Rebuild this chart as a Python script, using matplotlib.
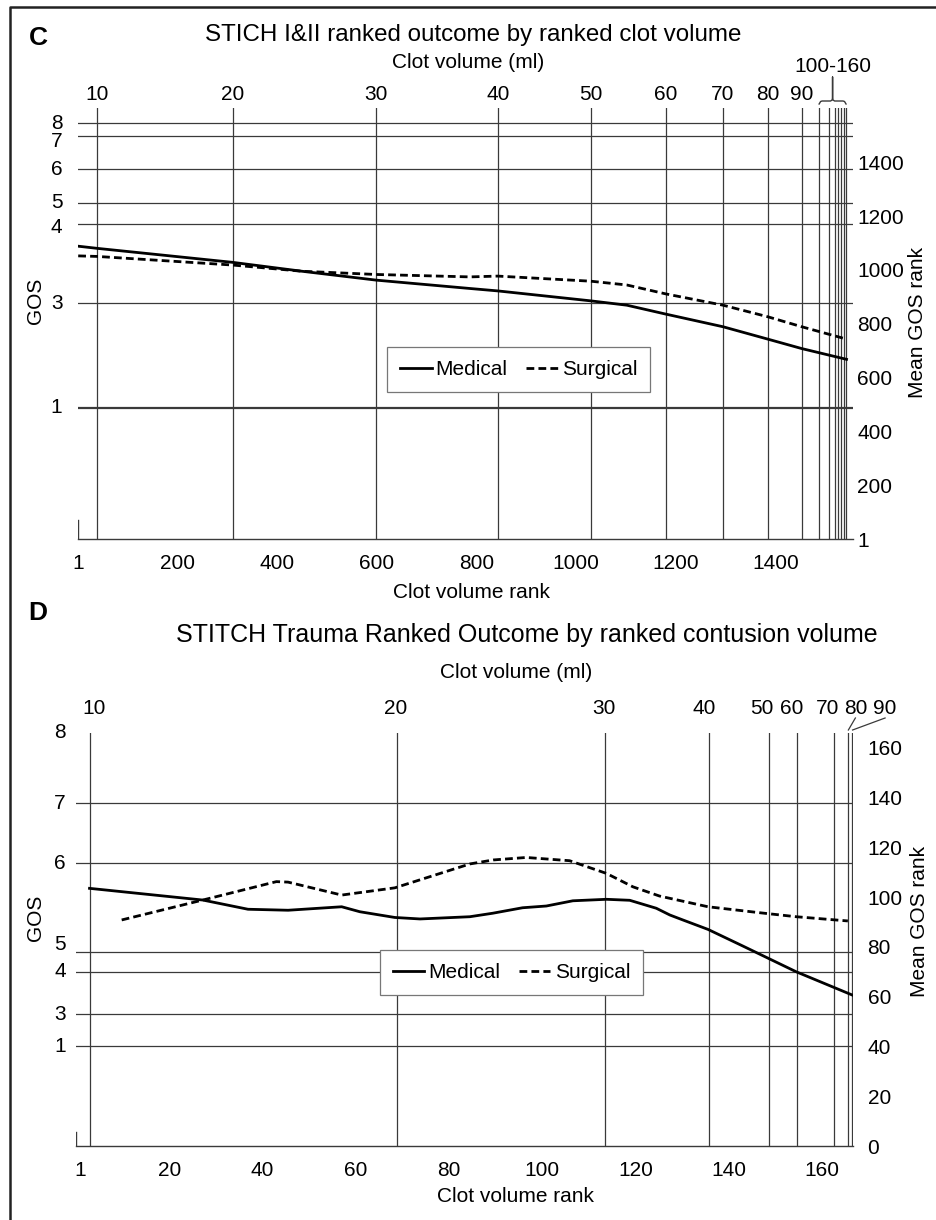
import matplotlib
matplotlib.use("Agg")
import matplotlib.pyplot as plt
from matplotlib.lines import Line2D

plt.rcParams['font.family'] = ['Liberation Sans', 'DejaVu Sans']

W, H, DPI = 937, 1220, 100

# ---------------- Panel C data ----------------
c_title = "STICH I&II ranked outcome by ranked clot volume"
c_x_rank = [1, 39, 311, 450, 599, 787, 843, 1030, 1102, 1180, 1295, 1385, 1453, 1543]
c_medical = [1088, 1080, 1028, 995, 962, 931, 922, 885, 869, 836, 789, 743, 708, 668]
c_surgical = [1052, 1050, 1018, 995, 983, 974, 977, 958, 944, 911, 869, 826, 789, 743]
c_gos_labels = ["1", "3", "4", "5", "6", "7", "8"]
c_gos_rank = [488, 876, 1171, 1250, 1374, 1498, 1544]
c_vol_values = [10, 20, 30, 40, 50, 60, 70, 80, 90, 100, 110, 120, 130, 140, 150, 160]
c_vol_rank = [39, 311, 599, 843, 1030, 1180, 1295, 1385, 1453, 1488, 1507, 1519, 1526, 1532, 1538, 1542]
c_xticks = [1, 200, 400, 600, 800, 1000, 1200, 1400]
c_yticks = [1, 200, 400, 600, 800, 1000, 1200, 1400]

# ---------------- Panel D data ----------------
d_title = "STITCH Trauma Ranked Outcome by ranked contusion volume"
d_med_rank = [2.9, 27.2, 36.9, 45.5, 57.0, 60.9, 68.4, 73.8, 84.5, 89.4, 95.8, 100.9,
              106.6, 113.8, 118.8, 124.5, 127.4, 130.2, 135.6, 143.1, 154.5, 166.6]
d_medical = [103.5, 98.8, 95.1, 94.7, 96.1, 94.1, 91.8, 91.2, 92.1, 93.5, 95.7, 96.4,
             98.5, 99.1, 98.7, 95.5, 92.8, 90.8, 87.0, 80.3, 70.0, 60.6]
d_sur_rank = [9.8, 27.2, 43.0, 45.5, 57.0, 68.4, 84.5, 89.5, 96.6, 105.9, 113.8,
              119.5, 125.2, 135.6, 146.7, 154.5, 165.6]
d_surgical = [90.8, 98.8, 106.2, 106.0, 100.8, 103.7, 113.3, 114.9, 115.9, 114.6, 109.5,
              104.1, 100.4, 96.1, 93.7, 92.1, 90.4]
d_gos_labels = ["1", "3", "4", "5", "6", "7", "8"]
d_gos_rank = [40.0, 52.9, 69.9, 77.8, 113.5, 137.6, 165.9]
d_vol_values = [10, 20, 30, 40, 50, 60, 70, 80, 90]
d_vol_rank = [3.0, 68.8, 113.6, 135.7, 148.6, 154.6, 162.7, 165.6, 166.5]
d_xticks = [1, 20, 40, 60, 80, 100, 120, 140, 160]
d_yticks = [0, 20, 40, 60, 80, 100, 120, 140, 160]

# ---------------- styling / layout ----------------
GRID = '#3a3a3a'
FS = 15
FS_TITLE_C = 17.4
FS_TITLE_D = 18.0

fig = plt.figure(figsize=(W / DPI, H / DPI), dpi=DPI)


def fx(x):
    return x / W


def fy(y):
    return 1 - y / H


def add_axes_px(left, top, right, bottom):
    return fig.add_axes([fx(left), fy(bottom), (right - left) / W, (bottom - top) / H])


def data_px(ax, x, y):
    X, Y = ax.transData.transform((x, y))
    return X, H - Y


def setup_panel(ax, xlim, ylim, xticks, yticks, xpad, ypad, stub):
    ax.set_xlim(*xlim)
    ax.set_ylim(*ylim)
    for s in ['top', 'left', 'right']:
        ax.spines[s].set_visible(False)
    ax.spines['bottom'].set_color(GRID)
    ax.spines['bottom'].set_linewidth(1.0)
    ax.set_xticks(xticks)
    ax.set_xticklabels([str(v) for v in xticks])
    ax.yaxis.tick_right()
    ax.set_yticks(yticks)
    ax.set_yticklabels([str(v) for v in yticks])
    ax.tick_params(axis='x', length=0, pad=xpad, labelsize=FS)
    ax.tick_params(axis='y', length=0, pad=ypad, labelsize=FS)
    ax.axvline(xlim[0], ymin=0, ymax=stub, color=GRID, lw=1.0)


def make_legend(ax, handles, anchor):
    leg = ax.legend(handles=handles, loc='center', bbox_to_anchor=anchor, ncol=2,
                    fontsize=FS, frameon=True, fancybox=False, framealpha=1,
                    edgecolor='#777777', handlelength=1.5, handletextpad=0.2,
                    columnspacing=0.9, borderpad=0.62)
    leg.get_frame().set_linewidth(0.9)
    return leg


# ================= Panel C =================
axc = add_axes_px(77.7, 108, 853, 539)
setup_panel(axc, (0, 1556), (1, 1601), c_xticks, c_yticks, 10.5, 3.2, 0.044)

for lab, r in zip(c_gos_labels, c_gos_rank):
    axc.axhline(r, color=GRID, lw=1.6 if lab == "1" else 0.9, zorder=1)
for r in c_vol_rank:
    axc.axvline(r, color=GRID, lw=0.9, zorder=1)

lm, = axc.plot(c_x_rank, c_medical, color='black', lw=2.0, label='Medical', zorder=3)
ls, = axc.plot(c_x_rank, c_surgical, color='black', lw=2.0, ls=(0, (2.8, 1.5)),
               label='Surgical', zorder=3)
make_legend(axc, [lm, ls], (0.569, 0.393))

# GOS labels (left)
c_gos_dy = {"7": 6, "4": 4}
for lab, r in zip(c_gos_labels, c_gos_rank):
    _, ypx = data_px(axc, 0, r)
    fig.text(fx(62.5), fy(ypx + c_gos_dy.get(lab, 0)), lab, ha='right', va='center', fontsize=FS)

# clot volume labels (top)
for v, r in zip(c_vol_values, c_vol_rank):
    if v <= 90:
        xpx, _ = data_px(axc, r, 0)
        fig.text(fx(xpx), fy(95), str(v), ha='center', va='center', fontsize=FS)

# bracket for 100-160
x0, _ = data_px(axc, c_vol_rank[9], 0)
x1, _ = data_px(axc, c_vol_rank[-1], 0)
xm = (x0 + x1) / 2
bx = [x0, x0 + 1.5, x0 + 3, xm - 2, xm - 0.5, xm, xm, xm, xm + 0.5, xm + 2, x1 - 3, x1 - 1.5, x1]
by = [104, 101.5, 101, 101, 100, 98, 77, 98, 100, 101, 101, 101.5, 104]
fig.add_artist(Line2D([fx(v) for v in bx], [fy(v) for v in by], color=GRID, lw=1.0,
                      transform=fig.transFigure))
fig.text(fx(xm), fy(66), "100-160", ha='center', va='center', fontsize=FS)

fig.text(fx(473), fy(35), c_title, ha='center', va='center', fontsize=FS_TITLE_C)
fig.text(fx(468.5), fy(63), "Clot volume (ml)", ha='center', va='center', fontsize=FS)
fig.text(fx(472), fy(592), "Clot volume rank", ha='center', va='center', fontsize=FS)
fig.text(fx(36), fy(301), "GOS", ha='center', va='center', rotation=90, fontsize=FS)
fig.text(fx(918), fy(322), "Mean GOS rank", ha='center', va='center', rotation=90, fontsize=FS)
fig.text(fx(38), fy(38), "C", ha='center', va='center', fontsize=19, fontweight='bold')

# ================= Panel D =================
axd = add_axes_px(76, 733, 853, 1146)
setup_panel(axd, (0, 166.7), (0, 165.9), d_xticks, d_yticks, 10.5, 10.5, 0.034)

for lab, r in zip(d_gos_labels, d_gos_rank):
    if r < 165.0:
        axd.axhline(r, color=GRID, lw=0.9, zorder=1)
for r in d_vol_rank:
    axd.axvline(r, color=GRID, lw=0.9, zorder=1)

dm, = axd.plot(d_med_rank, d_medical, color='black', lw=2.0, label='Medical', zorder=3)
ds, = axd.plot(d_sur_rank, d_surgical, color='black', lw=2.0, ls=(0, (2.8, 1.5)),
               label='Surgical', zorder=3)
make_legend(axd, [dm, ds], (0.5605, 0.420))

d_gos_dy = {"5": -8}
for lab, r in zip(d_gos_labels, d_gos_rank):
    _, ypx = data_px(axd, 0, r)
    fig.text(fx(66), fy(ypx + d_gos_dy.get(lab, 0)), lab, ha='right', va='center', fontsize=FS)

d_vol_dx = [4, -1, -2, -4.5, -7, -4.5, -6.5, 7.5, 33]
for v, r, dx in zip(d_vol_values, d_vol_rank, d_vol_dx):
    xpx, _ = data_px(axd, r, 0)
    fig.text(fx(xpx + dx), fy(709), str(v), ha='center', va='center', fontsize=FS)
    if v >= 80:
        fig.add_artist(Line2D([fx(xpx + dx), fx(xpx + 0.5)], [fy(718), fy(730)],
                              color=GRID, lw=0.9, transform=fig.transFigure))

fig.text(fx(526.5), fy(635), d_title, ha='center', va='center', fontsize=FS_TITLE_D)
fig.text(fx(515.7), fy(672), "Clot volume (ml)", ha='center', va='center', fontsize=FS)
fig.text(fx(516), fy(1197), "Clot volume rank", ha='center', va='center', fontsize=FS)
fig.text(fx(36), fy(918), "GOS", ha='center', va='center', rotation=90, fontsize=FS)
fig.text(fx(919.5), fy(921.7), "Mean GOS rank", ha='center', va='center', rotation=90, fontsize=FS)
fig.text(fx(38), fy(613), "D", ha='center', va='center', fontsize=19, fontweight='bold')

# outer frame (top and left edges visible)
fig.add_artist(Line2D([fx(10), fx(10), fx(W + 5)], [fy(H + 5), fy(6.5), fy(6.5)],
                      color='#222222', lw=1.8, transform=fig.transFigure))

fig.savefig("out.png", dpi=DPI)
